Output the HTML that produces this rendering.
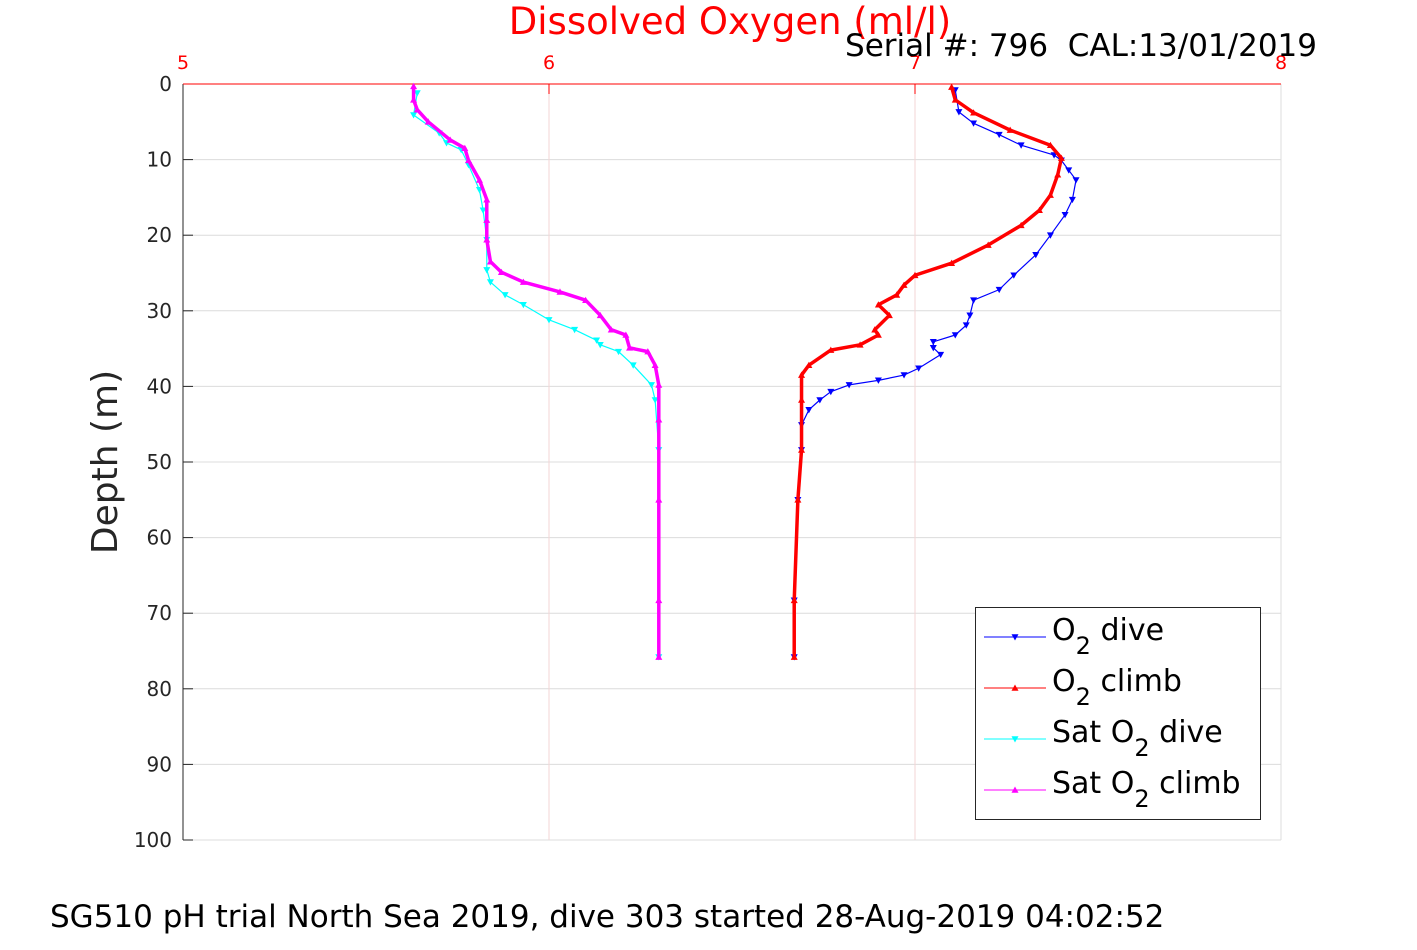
<!DOCTYPE html>
<html><head><meta charset="utf-8"><style>
body{margin:0;background:#fff;font-family:"Liberation Sans","DejaVu Sans",sans-serif}
svg text{font-family:"DejaVu Sans","Liberation Sans",sans-serif}
</style></head><body>
<svg id="chart" width="1417" height="945" viewBox="0 0 1417 945" xmlns="http://www.w3.org/2000/svg">
<rect width="1417" height="945" fill="#fff"/>
<g id="grid"></g>
<g id="axes"></g>
<g id="series"></g>
<text x="730" y="34" font-size="37" fill="#ff0000" text-anchor="middle">Dissolved Oxygen (ml/l)</text>
<text x="1317" y="56" font-size="31" fill="#000" text-anchor="end">Serial #: 796 &#160;CAL:13/01/2019</text>
<text transform="translate(117,462) rotate(-90)" font-size="36" fill="#262626" text-anchor="middle">Depth (m)</text>
<text x="50" y="927" font-size="31" fill="#000">SG510 pH trial North Sea 2019, dive 303 started 28-Aug-2019 04:02:52</text>
<g>
<rect x="975.5" y="607.5" width="285" height="212" fill="#fff" stroke="#262626" stroke-width="1"/>
<g id="legend-items"></g>
</g>
</svg>
<script>
const xTicks=[5,6,7,8];
const yTicks=[0,10,20,30,40,50,60,70,80,90,100];
const o2DiveX=[7.11,7.12,7.16,7.23,7.29,7.38,7.40,7.42,7.44,7.43,7.41,7.37,7.33,7.27,7.23,7.16,7.15,7.14,7.11,7.05,7.05,7.07,7.01,6.97,6.90,6.82,6.77,6.74,6.71,6.69,6.69,6.68,6.67,6.67];
const o2DiveD=[0.8,3.7,5.2,6.7,8.1,9.4,10.1,11.4,12.7,15.3,17.3,20.0,22.6,25.3,27.2,28.6,30.6,31.9,33.2,34.1,34.9,35.8,37.6,38.5,39.2,39.8,40.7,41.8,43.1,45.1,48.4,55.0,68.3,75.8];
const o2ClimbX=[7.10,7.11,7.16,7.26,7.37,7.40,7.39,7.37,7.34,7.29,7.20,7.10,7.00,6.97,6.95,6.90,6.93,6.89,6.90,6.85,6.77,6.71,6.69,6.69,6.69,6.68,6.67,6.67];
const o2ClimbD=[0.4,2.1,3.8,6.1,8.1,9.8,12.0,14.7,16.7,18.7,21.3,23.7,25.3,26.6,27.9,29.2,30.6,32.5,33.2,34.5,35.2,37.2,38.5,41.8,48.4,55.0,68.3,75.8];
const satDiveX=[5.64,5.63,5.70,5.72,5.76,5.78,5.81,5.82,5.83,5.83,5.84,5.88,5.93,6.00,6.07,6.13,6.14,6.19,6.23,6.28,6.29,6.30,6.30];
const satDiveD=[1.2,4.1,6.5,7.8,8.7,10.7,14.0,16.7,20.6,24.6,26.2,27.9,29.2,31.2,32.5,33.9,34.5,35.4,37.2,39.8,41.8,48.4,75.8];
const satClimbX=[5.63,5.63,5.64,5.67,5.73,5.77,5.78,5.81,5.83,5.83,5.83,5.84,5.87,5.93,6.03,6.10,6.14,6.17,6.21,6.22,6.27,6.29,6.30,6.30,6.30,6.30,6.30];
const satClimbD=[0.3,2.1,3.4,5.0,7.4,8.5,10.1,12.7,15.3,18.0,20.6,23.5,24.9,26.2,27.5,28.6,30.6,32.5,33.2,34.9,35.4,37.2,39.8,44.4,55,68.3,75.8];

const L=183,R=1281,T=84,B=840;
const sx=v=>L+(v-5)/3*(R-L);
const sy=d=>T+d/100*(B-T);
const NS="http://www.w3.org/2000/svg";
function mk(tag,attrs,parent){const e=document.createElementNS(NS,tag);for(const k in attrs)e.setAttribute(k,attrs[k]);parent.appendChild(e);return e;}
const grid=document.getElementById('grid'),axes=document.getElementById('axes'),series=document.getElementById('series');
yTicks.forEach(t=>{
  const g=mk('line',{x1:L,x2:R,y1:sy(t),y2:sy(t),stroke:'#dcdcdc','stroke-width':1},grid);
  
  
  const tk=mk('line',{x1:L,x2:L+10,y1:sy(t),y2:sy(t),stroke:'#262626'},axes);
  
  
  const tx=mk('text',{x:172,y:sy(t)+7,'font-size':20,fill:'#262626','text-anchor':'end'},axes);
  tx.textContent=t;
  
  
});
xTicks.forEach(t=>{
  if(t>5&&t<8){const g=mk('line',{x1:sx(t),x2:sx(t),y1:T,y2:B,stroke:'#f3d6d6','stroke-width':1},grid);
  
  }
  const tk=mk('line',{x1:sx(t),x2:sx(t),y1:T,y2:T+10,stroke:'#ff0000'},axes);
  
  
  const tx=mk('text',{x:sx(t),y:69,'font-size':19,fill:'#ff0000','text-anchor':'middle'},axes);
  tx.textContent=t;
  
  
});
const ax1=mk('line',{x1:L,x2:L,y1:T,y2:B,stroke:'#262626'},axes);


const ax3=mk('line',{x1:R,x2:R,y1:T,y2:B,stroke:'#dcdcdc'},axes);


const ax2=mk('line',{x1:L,x2:R,y1:T,y2:T,stroke:'#ff0000'},axes);



function tri(x,y,up,s){return up?`${x},${y-s} ${x-s},${y+s*0.8} ${x+s},${y+s*0.8}`:`${x},${y+s} ${x-s},${y-s*0.8} ${x+s},${y-s*0.8}`;}
function drawSeries(xs,ds,color,up,w,name){
  const g=mk('g',{},series);
  
  
  const pts=xs.map((v,i)=>sx(v)+','+sy(ds[i])).join(' ');
  mk('polyline',{points:pts,fill:'none',stroke:color,'stroke-width':w,'stroke-linejoin':'round'},g);
  xs.forEach((v,i)=>{
    const m=mk('polygon',{points:tri(sx(v),sy(ds[i]),up,3.5),fill:color},g);
    
    
  });
}
drawSeries(satDiveX,satDiveD,'#00ffff',false,1.2,'sat-o2-dive');
drawSeries(satClimbX,satClimbD,'#ff00ff',true,3.5,'sat-o2-climb');
drawSeries(o2DiveX,o2DiveD,'#0000ff',false,1.2,'o2-dive');
drawSeries(o2ClimbX,o2ClimbD,'#ff0000',true,3.5,'o2-climb');

const li=document.getElementById('legend-items');
const leg=[['#0000ff',false,'O','2',' dive'],['#ff0000',true,'O','2',' climb'],['#00ffff',false,'Sat O','2',' dive'],['#ff00ff',true,'Sat O','2',' climb']];
leg.forEach((e,i)=>{
  const y=637+i*51;
  const g=mk('g',{},li);
  
  
  mk('line',{x1:984,x2:1046,y1:y,y2:y,stroke:e[0],'stroke-width':1},g);
  mk('polygon',{points:tri(1015,y,e[1],3.5),fill:e[0]},g);
  const t=mk('text',{x:1052,y:y+3,'font-size':30,fill:'#000'},g);
  const a=mk('tspan',{},t);a.textContent=e[2];
  const b=mk('tspan',{dy:14,'font-size':24},t);b.textContent=e[3];
  const c=mk('tspan',{dy:-14},t);c.textContent=e[4];
});
</script>
</body></html>
